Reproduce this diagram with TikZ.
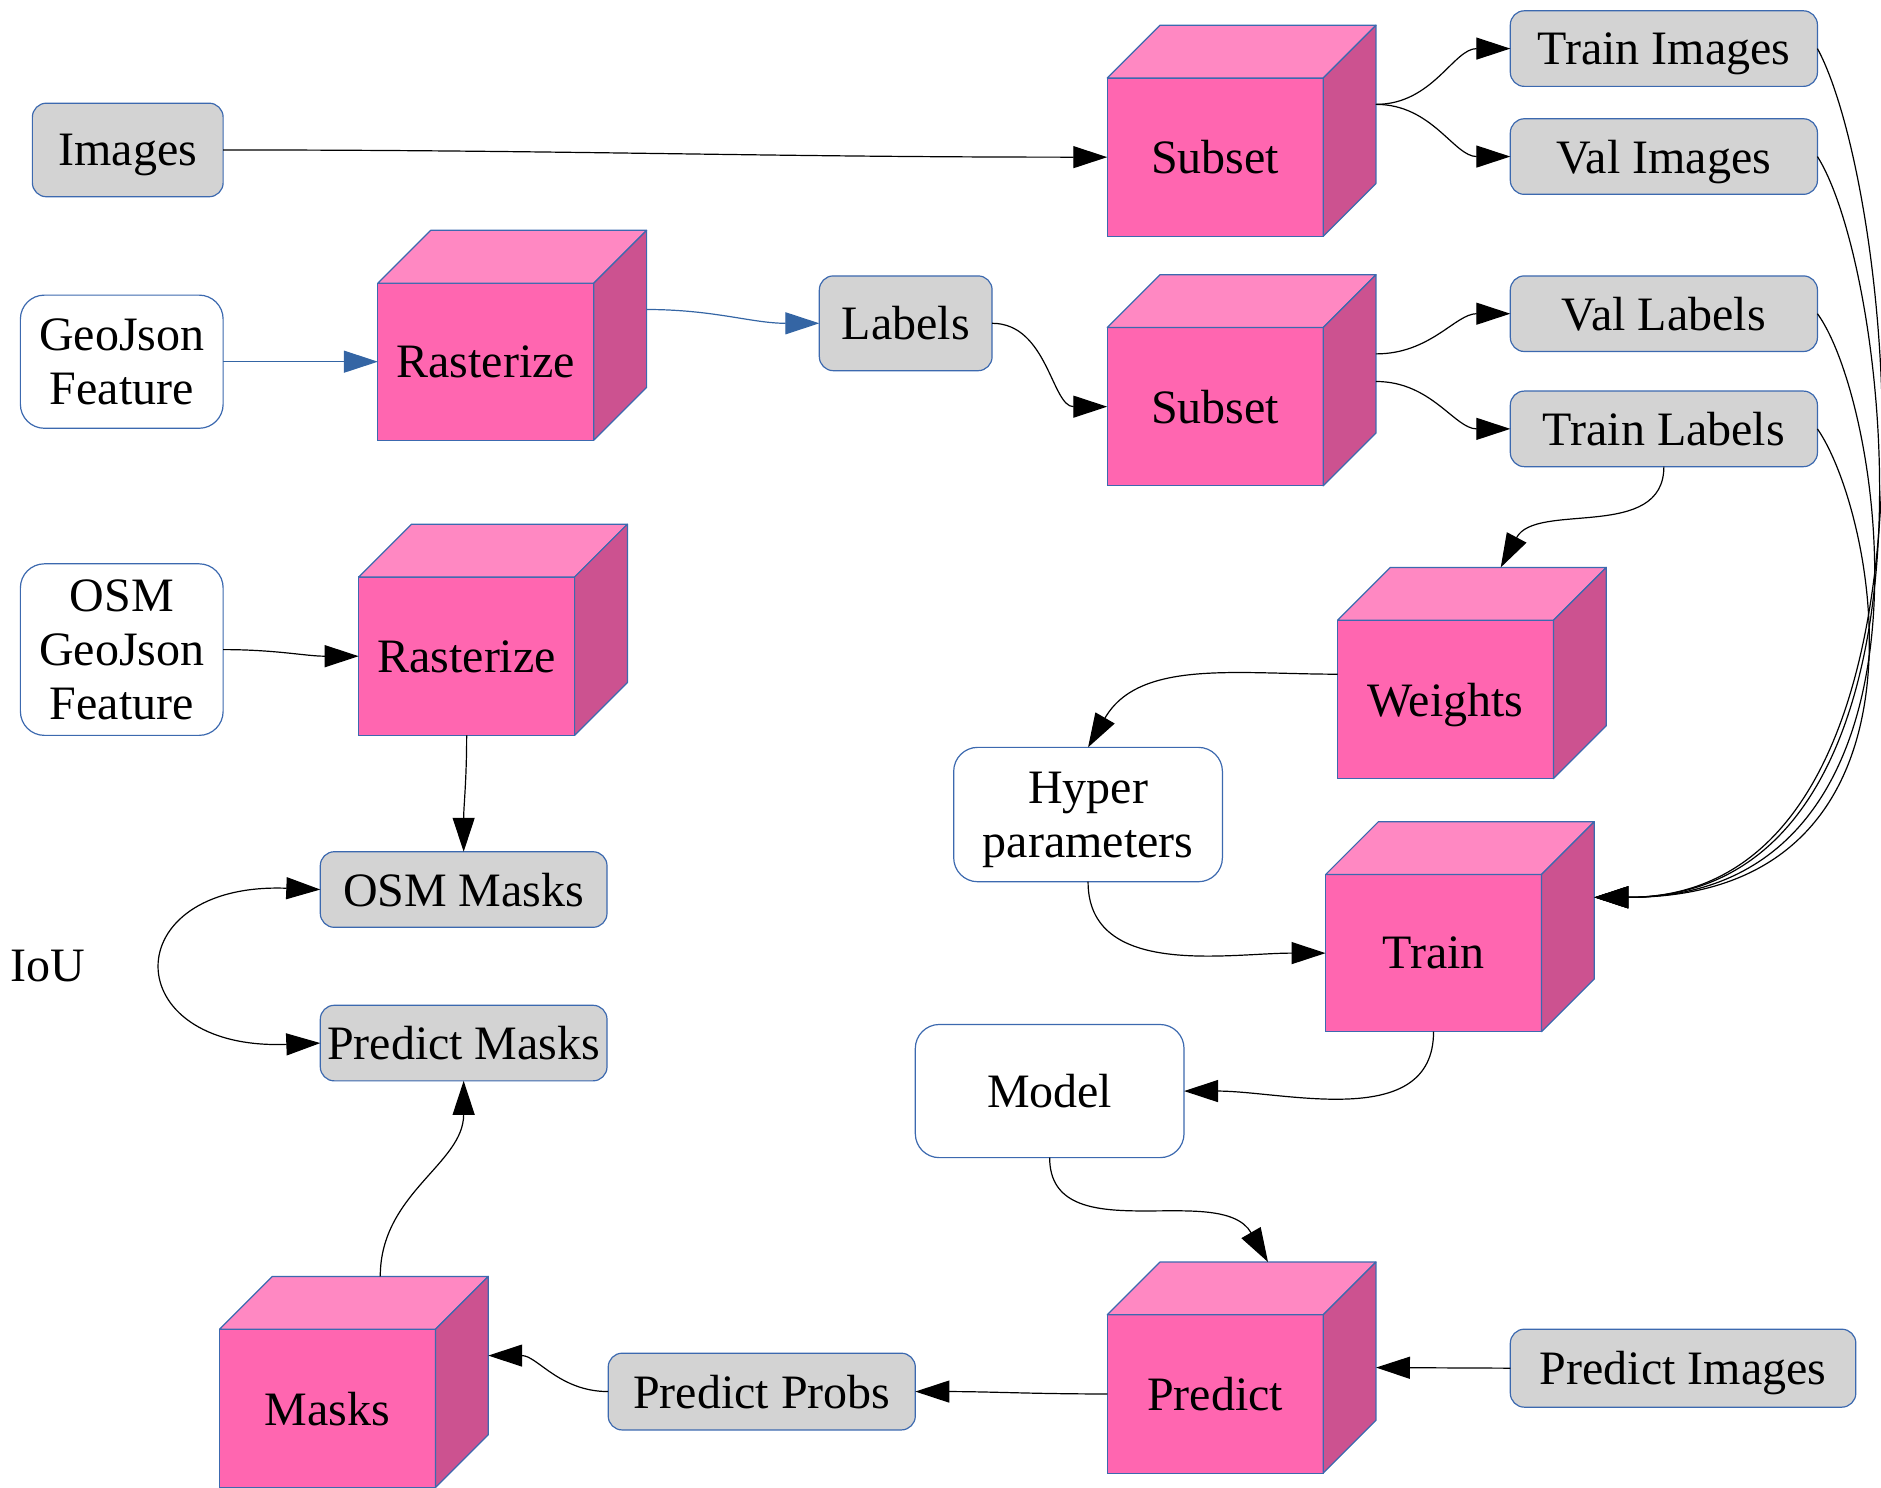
\documentclass[tikz,border=0pt]{standalone}
\usepackage{fontspec}
\setmainfont{Liberation Serif}
\usetikzlibrary{calc,arrows.meta}
\definecolor{bord}{RGB}{60,105,175}
\definecolor{grayf}{RGB}{211,211,211}
\definecolor{cfront}{RGB}{255,102,176}
\definecolor{ctop}{RGB}{255,136,194}
\definecolor{cside}{RGB}{204,82,144}
\definecolor{lnblue}{RGB}{52,101,164}
\tikzset{
 every node/.style={font=\fontsize{48}{54}\selectfont, inner sep=0pt, outer sep=0pt},
 graybox/.style={draw=bord, line width=1.2pt, fill=grayf, rounded corners=14pt, text depth=0pt},
 whitebox/.style={draw=bord, line width=1.2pt, fill=white, rounded corners=24pt, align=center},
 cubefront/.style={draw=bord, line width=1.2pt, fill=cfront, minimum width=216pt, minimum height=158.4pt, text depth=0pt},
 conn/.style={line width=1.2pt, -{Triangle[length=34pt,width=22pt]}},
 bconn/.style={line width=1.2pt, draw=lnblue, -{Triangle[length=34pt,width=22pt,fill=lnblue]}},
}
\newcommand\cubesides[1]{%
 \filldraw[fill=ctop, draw=bord, line width=1.2pt, line join=round] (#1.north west) -- ++(44,-44) -- ($(#1.north east)+(44,-44)$) -- (#1.north east) -- cycle;
 \filldraw[fill=cside, draw=bord, line width=1.2pt, line join=round] (#1.north east) -- ++(44,-44) -- ($(#1.south east)+(44,-44)$) -- (#1.south east) -- cycle;
}
\begin{document}
\begin{tikzpicture}[x=1.2pt,y=-1.2pt]
\useasboundingbox (0,0) rectangle (1568,1240);
% gray boxes
\node[graybox, minimum width=190.8pt, minimum height=93.6pt] (img) at (106.5,125) {Images};
\node[graybox, minimum width=307.2pt, minimum height=75.6pt] (ti) at (1387,40.5) {Train Images};
\node[graybox, minimum width=307.2pt, minimum height=75.6pt] (vi) at (1387,130.5) {Val Images};
\node[graybox, minimum width=172.8pt, minimum height=94.8pt] (lab) at (755,269.5) {Labels};
\node[graybox, minimum width=307.2pt, minimum height=75.6pt] (vl) at (1387,261.5) {Val Labels};
\node[graybox, minimum width=307.2pt, minimum height=75.6pt] (tl) at (1387,357.5) {Train Labels};
\node[graybox, minimum width=286.8pt, minimum height=75.6pt] (om) at (386.5,741.5) {OSM Masks};
\node[graybox, minimum width=286.8pt, minimum height=75.6pt] (pm) at (386.5,869.5) {Predict Masks};
\node[graybox, minimum width=307.2pt, minimum height=76.8pt] (pp) at (635,1160) {Predict Probs};
\node[graybox, minimum width=345.6pt, minimum height=78pt] (pi) at (1403,1140.5) {Predict Images};
% white boxes
\node[whitebox, minimum width=202.8pt, minimum height=133.2pt] (geo) at (101.5,301.5) {GeoJson\\Feature};
\node[whitebox, minimum width=202.8pt, minimum height=171.6pt] (og) at (101.5,541.5) {OSM\\GeoJson\\Feature};
\node[whitebox, minimum width=268.8pt, minimum height=134.4pt] (hp) at (907,679) {\raisebox{-5pt}[\height][\depth]{\begin{tabular}{@{}c@{}}Hyper\\[0pt]parameters\end{tabular}}};
\node[whitebox, minimum width=268.8pt, minimum height=133.2pt] (mod) at (875,909.5) {Model};
% cubes
\node[cubefront] (s1) at (1013,131) {Subset};
\node[cubefront, minimum height=157.2pt] (r1) at (405,301.5) {Rasterize};
\node[cubefront] (s2) at (1013,339) {Subset};
\node[cubefront] (r2) at (389,547) {Rasterize};
\node[cubefront] (w) at (1205,583) {Weights};
\node[cubefront, minimum height=157.2pt] (tr) at (1195,794.5) {Train};
\node[cubefront] (pr) at (1013,1162) {Predict};
\node[cubefront] (m) at (273,1174) {Masks};
\cubesides{s1}\cubesides{r1}\cubesides{s2}\cubesides{r2}
\cubesides{w}\cubesides{tr}\cubesides{pr}\cubesides{m}
\node (iou) at (40,805) {IoU};
% connector points on cube faces
\coordinate (s1r) at ($(s1.north east)+(44,22)$);
\coordinate (r1r) at ($(r1.north east)+(44,22)$);
\coordinate (s2ra) at ($(s2.north east)+(44,22)$);
\coordinate (s2rb) at ($(s2.north east)+(44,45)$);
\coordinate (trr) at ($(tr.north east)+(44,19)$);
\coordinate (prr) at ($(pr.north east)+(44,44)$);
\coordinate (mr) at ($(m.north east)+(44,22)$);
\coordinate (wt) at ($(w.north west)+(136,-44)$);
\coordinate (wl) at ($(w.west)+(0,-21)$);
\coordinate (prt) at ($(pr.north west)+(134,-44)$);
\coordinate (mt) at ($(m.north west)+(134,-44)$);
% connectors
\draw[conn] (img.east) to[out=0,in=180] (s1.west);
\draw[bconn] (geo.east) -- (r1.west);
\draw[bconn] (r1r) to[out=0,in=180] (lab.west);
\draw[conn] (lab.east) to[out=0,in=180] (s2.west);
\draw[conn] (s1r) to[out=0,in=180] (ti.west);
\draw[conn] (s1r) to[out=0,in=180] (vi.west);
\draw[conn] (s2ra) to[out=0,in=180] (vl.west);
\draw[conn] (s2rb) to[out=0,in=180] (tl.west);
\draw[conn] (tl.south) to[out=-90,in=62] (wt);
\draw[conn] (wl) to[out=180,in=60] (hp.north);
\draw[conn] (hp.south) to[out=-90,in=180] (tr.west);
\draw[conn] (tr.south) to[out=-90,in=0] (mod.east);
\draw[conn] (mod.south) to[out=-90,in=120] (prt);
\draw[conn] (pi.west) -- (prr);
\draw[conn] (pr.west) to[out=180,in=0] (pp.east);
\draw[conn] (pp.west) to[out=180,in=0] (mr);
\draw[conn] (mt) to[out=90,in=-90] (pm.south);
\draw[conn] (r2.south) to[out=-90,in=90] (om.north);
\draw[conn] (og.east) to[out=0,in=180] (r2.west);
\draw[line width=1.2pt, {Triangle[length=34pt,width=22pt]}-{Triangle[length=34pt,width=22pt]}] (om.west) .. controls (96,735) and (96,876) .. (pm.west);
\draw[conn] (ti.east) .. controls (1580,160) and (1640,748) .. (trr);
\draw[conn] (vi.east) .. controls (1578,230) and (1635,748) .. (trr);
\draw[conn] (vl.east) .. controls (1572,340) and (1630,748) .. (trr);
\draw[conn] (tl.east) .. controls (1565,430) and (1625,748) .. (trr);
\end{tikzpicture}
\end{document}
